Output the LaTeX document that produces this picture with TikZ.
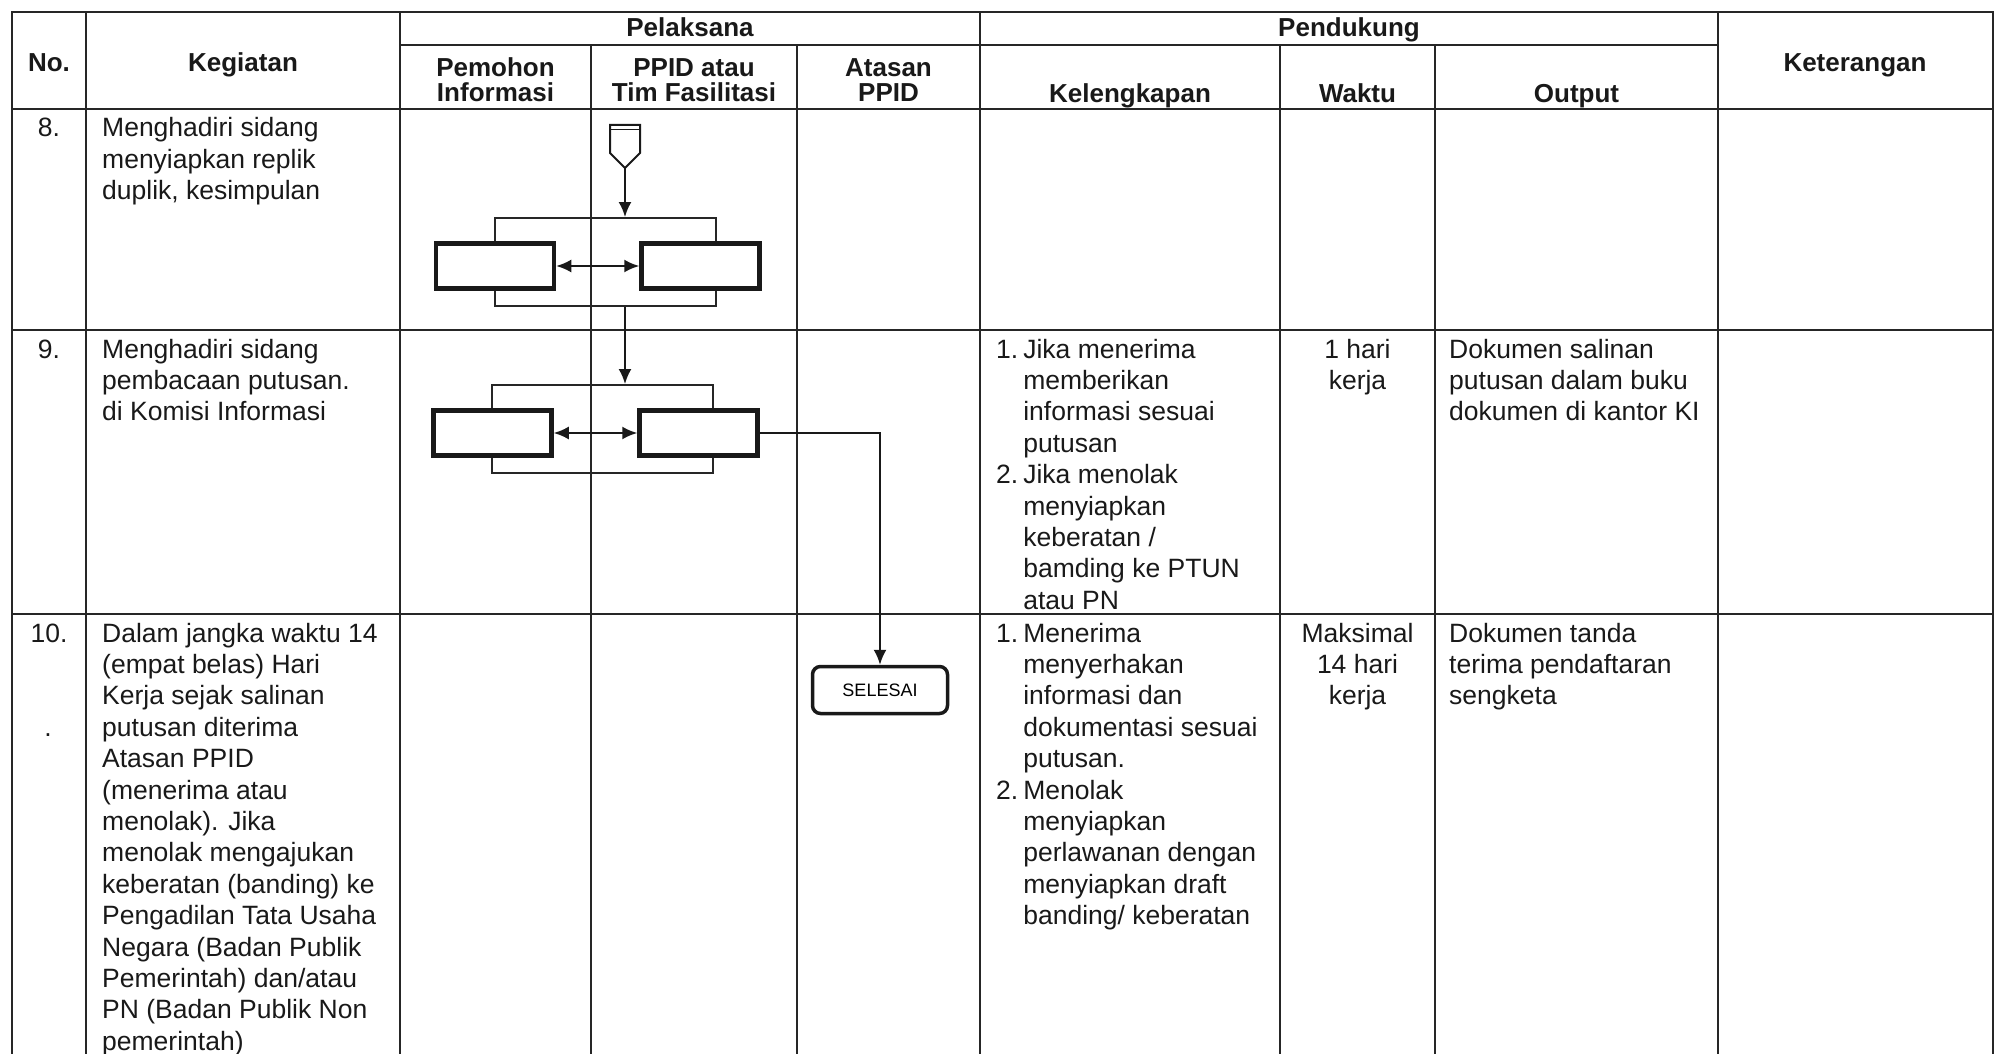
\documentclass[tikz,border=0pt]{standalone}
\usepackage{fontspec}
\setmainfont{Liberation Sans}
\usetikzlibrary{arrows.meta,positioning}

\newcommand{\celltab}[1]{\begin{tabular}[t]{@{}l@{}}#1\end{tabular}}
\newcommand{\listtab}[1]{\begin{tabular}[t]{@{}l@{\hspace{5pt}}l@{}}#1\end{tabular}}
\newcommand{\midtab}[1]{\begin{tabular}[t]{@{}c@{}}#1\end{tabular}}

\begin{document}
\begin{tikzpicture}
[x=1pt,y=-1pt,
  gridline/.style={line width=2.4pt,draw=black!85,line cap=rect},%
  headtext/.style={font=\fontsize{26}{25}\selectfont\bfseries,inner sep=0pt,align=center,text=black!90},%
  bodytext/.style={font=\fontsize{26.5}{31.4}\selectfont,inner sep=0pt,anchor=base west,text=black!90},%
  actbox/.style={draw=black!90,line width=4.5pt,fill=white,minimum width=118pt,minimum height=45pt,inner sep=0pt},%
  grpbox/.style={draw=black!85,line width=2pt,minimum width=221pt,minimum height=88pt,inner sep=0pt},%
  endbox/.style={draw=black!90,line width=3.5pt,rounded corners=8pt,minimum width=135pt,minimum height=47pt,inner sep=0pt,font=\fontsize{18}{18}\selectfont},%
  arrowdecorate/.style={-{Latex[length=15pt,width=13pt]},line width=2pt,draw=black!90},%
  bothdecorate/.style={{Latex[length=15pt,width=13pt]}-{Latex[length=15pt,width=13pt]},line width=2pt,draw=black!90}]
\useasboundingbox (0,0) rectangle (1999,1054);
% table lines
\draw[gridline] (12,12) -- (1993,12);
\draw[gridline] (400,45) -- (1718,45);
\draw[gridline] (12,109) -- (1993,109);
\draw[gridline] (12,330) -- (1993,330);
\draw[gridline] (12,614) -- (1993,614);
\foreach \xx in {12,86,400,980,1718,1993}
  \draw[gridline] (\xx,12) -- (\xx,1054);
\foreach \xx in {591,797,1280,1435}
  \draw[gridline] (\xx,45) -- (\xx,1054);
% header
\node[headtext,anchor=base] (hno) at (49,72) {No.};
\node[headtext,anchor=base] (hkeg) at (243,72) {Kegiatan};
\node[headtext,anchor=base] (hpel) at (690,37) {Pelaksana};
\node[headtext,anchor=base] (hpen) at (1349,37) {Pendukung};
\node[headtext,anchor=base] (hket) at (1855,72) {Keterangan};
\node[headtext] (hpem) at (495.5,80) {Pemohon\\Informasi};
\node[headtext] (hppid) at (694,80) {PPID atau\\Tim Fasilitasi};
\node[headtext] (hatas) at (888.5,80) {Atasan\\PPID};
\node[headtext,anchor=base] (hleng) at (1130,103) {Kelengkapan};
\node[headtext,anchor=base] (hwak) at (1357.5,103) {Waktu};
\node[headtext,anchor=base] (hout) at (1576.5,103) {Output};
% row 8
\node[bodytext,anchor=base] (no8) at (49,137) {8.};
\node[bodytext] (keg8) at (102,137) {\celltab{Menghadiri sidang\\menyiapkan replik\\duplik, kesimpulan}};
% row 9
\node[bodytext,anchor=base] (no9) at (49,358) {9.};
\node[bodytext] (keg9) at (102,358) {\celltab{Menghadiri sidang\\pembacaan putusan.\\di Komisi Informasi}};
\node[bodytext] (leng9) at (996,358) {\listtab{1. & Jika menerima\\ & memberikan\\ & informasi sesuai\\ & putusan\\
  2. & Jika menolak\\ & menyiapkan\\ & keberatan /\\ & bamding ke PTUN\\ & atau PN}};
\node[bodytext,anchor=base] (wak9) at (1357.5,358) {\midtab{1 hari\\kerja}};
\node[bodytext] (out9) at (1449,358) {\celltab{Dokumen salinan\\putusan dalam buku\\dokumen di kantor KI}};
% row 10
\node[bodytext,anchor=base] (no10) at (49,642) {10.};
\node[bodytext,anchor=base] (dot10) at (48,736) {.};
\node[bodytext] (keg10) at (102,642) {\celltab{Dalam jangka waktu 14\\(empat belas) Hari\\Kerja sejak salinan\\putusan diterima\\Atasan PPID\\(menerima atau\\menolak). Jika\\menolak mengajukan\\keberatan (banding) ke\\Pengadilan Tata Usaha\\Negara (Badan Publik\\Pemerintah) dan/atau\\PN (Badan Publik Non\\pemerintah)}};
\node[bodytext] (leng10) at (996,642) {\listtab{1. & Menerima\\ & menyerhakan\\ & informasi dan\\ & dokumentasi sesuai\\ & putusan.\\
  2. & Menolak\\ & menyiapkan\\ & perlawanan dengan\\ & menyiapkan draft\\ & banding/ keberatan}};
\node[bodytext,anchor=base] (wak10) at (1357.5,642) {\midtab{Maksimal\\14 hari\\kerja}};
\node[bodytext] (out10) at (1449,642) {\celltab{Dokumen tanda\\terima pendaftaran\\sengketa}};
% flow symbols
\draw[line width=2pt,draw=black!90,fill=white] (610,125) -- (640,125) -- (640,153) -- (625,168) -- (610,153) -- cycle;
\draw[line width=1.5pt,draw=black!90] (610,129.5) -- (640,129.5);
\coordinate (conntip) at (625,168);
\node[grpbox] (grp8) at (605.5,262) {};
\node[actbox] (a8) at (495,266) {};
\node[actbox] (b8) at (700.5,266) {};
\node[grpbox] (grp9) at (602.5,429) {};
\node[actbox] (a9) at (492.5,433) {};
\node[actbox] (b9) at (698.5,433) {};
\node[endbox] (sel) at (880,690) {SELESAI};
% edges or lines
\draw[arrowdecorate] (conntip) -- (conntip |- grp8.north);
\draw[bothdecorate] (a8.east) -- (b8.west);
\draw[arrowdecorate] (conntip |- grp8.south) -- (conntip |- grp9.north);
\draw[bothdecorate] (a9.east) -- (b9.west);
\draw[arrowdecorate] (b9.east) -| (sel.north);
\end{tikzpicture}
\end{document}
